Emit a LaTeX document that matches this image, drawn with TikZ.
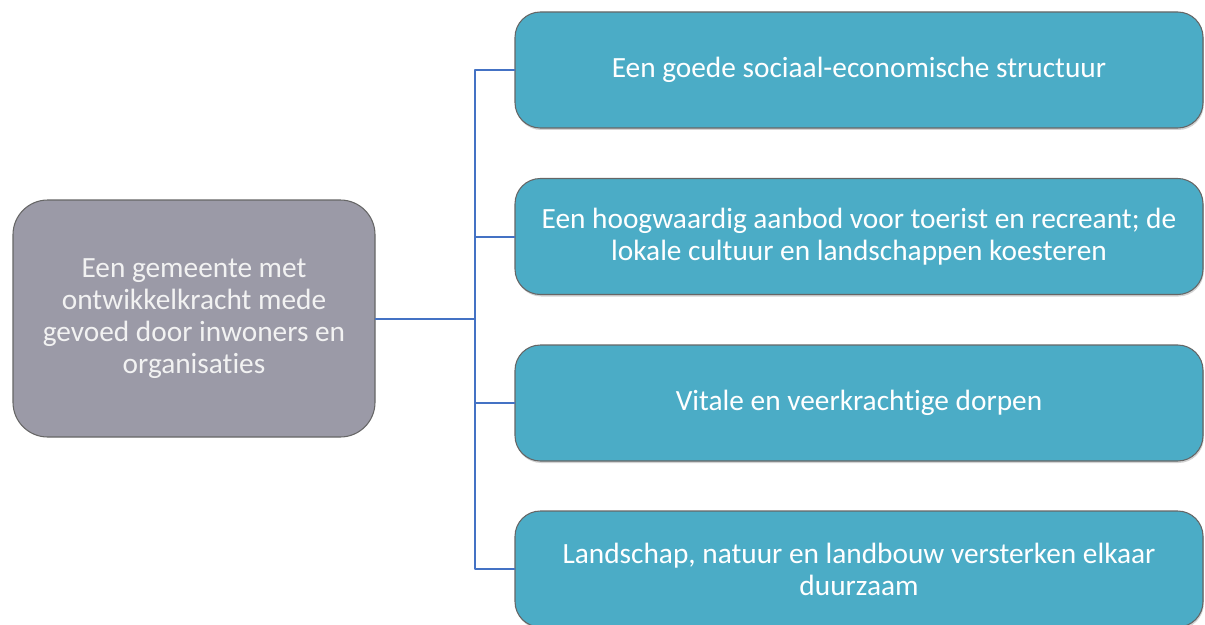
\documentclass[tikz,border=0pt]{standalone}
\usepackage{fontspec}
\setmainfont[Ligatures=NoCommon]{Carlito}
\usetikzlibrary{shadows}
\definecolor{boxteal}{HTML}{4BACC6}
\definecolor{boxgray}{HTML}{9B9AA7}
\definecolor{linkblue}{HTML}{4472C4}
\tikzset{
  goal/.style={draw=black!60, line width=0.8pt, fill=boxteal, text=white, align=center,
    rounded corners=19pt, minimum width=516pt, minimum height=87pt,
    drop shadow={shadow xshift=0.6pt, shadow yshift=-1.5pt, opacity=0.35}},
  vision/.style={draw=black!60, line width=0.8pt, fill=boxgray, text=white!95!black, align=center,
    rounded corners=26pt, minimum width=271.5pt, minimum height=177.75pt},
  link/.style={draw=linkblue, line width=1.5pt}
}
\begin{document}
\begin{tikzpicture}[x=0.75pt, y=-0.75pt, font=\fontsize{22}{24}\selectfont, line join=round, line cap=round]
\def\W{1205} \def\H{624}
\useasboundingbox (0,0) rectangle (\W,\H);
\clip (0,0) rectangle (\W,\H);
% left box
\node[vision] (main) at (194,318.5) {Een gemeente met\\ontwikkelkracht mede\\gevoed door inwoners en\\organisaties};
% right boxes
\node[goal] (b1) at (859,70) {Een goede sociaal-economische structuur};
\node[goal] (b2) at (859,236.5) {Een hoogwaardig aanbod voor toerist en recreant; de\\lokale cultuur en landschappen koesteren};
\node[goal] (b3) at (859,403) {Vitale en veerkrachtige dorpen};
\node[goal] (b4) at (859,569) {Landschap, natuur en landbouw versterken elkaar\\duurzaam};
% connectors
\coordinate (hub) at (475,318.5);
\draw[link] (main.east) -- (hub);
\foreach \i in {1,...,4}
  \draw[link] (hub) |- (b\i.west);
\end{tikzpicture}
\end{document}
